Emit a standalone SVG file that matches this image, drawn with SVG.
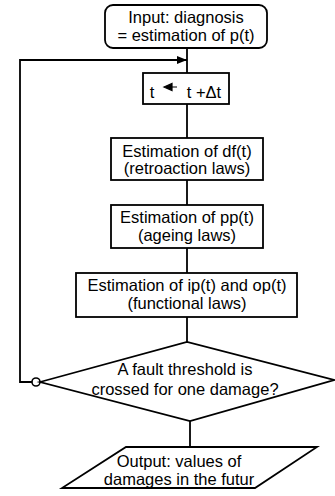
<svg xmlns="http://www.w3.org/2000/svg" width="335" height="496" viewBox="0 0 335 496">
<style>
.s{fill:#fff;stroke:#000;stroke-width:1.8}
.c{fill:none;stroke:#000;stroke-width:1.8}
text{font-family:"Liberation Sans",Arial,sans-serif;font-size:16.5px;fill:#000;text-anchor:middle}
</style>
<defs>
<marker id="ah" viewBox="0 0 10 8" refX="10" refY="4" markerWidth="10" markerHeight="8" markerUnits="userSpaceOnUse" orient="auto">
<path d="M0,0 L10,4 L0,8 Z" fill="#000"/>
</marker>
</defs>
<g id="connectors">
<path class="c" d="M187,48 V73"/>
<path class="c" d="M187,104 V138"/>
<path class="c" d="M187,180 V205"/>
<path class="c" d="M187,248 V273"/>
<path class="c" d="M187,317 V342"/>
<path class="c" d="M190,421 V447"/>
<path class="c" d="M32,382 H20 V60 H187" marker-end="url(#ah)"/>
<circle cx="36" cy="382" r="4" fill="#fff" stroke="#000" stroke-width="1.6"/>
</g>
<g id="input">
<rect class="s" x="105" y="5" width="162" height="43" rx="8"/>
<text x="186" y="23">Input: diagnosis</text>
<text x="186" y="41">= estimation of p(t)</text>
</g>
<g id="step">
<rect class="s" x="143" y="73" width="86" height="31"/>
<text x="152" y="98">t</text>
<path d="M164,87 L172,83.5 L172,90.5 Z M171,87 H177" fill="#000" stroke="#000" stroke-width="1.2"/>
<text x="204" y="98">t +Δt</text>
</g>
<g id="df">
<rect class="s" x="111" y="138" width="152" height="42"/>
<text x="187" y="157">Estimation of df(t)</text>
<text x="187" y="174">(retroaction laws)</text>
</g>
<g id="pp">
<rect class="s" x="111" y="205" width="152" height="43"/>
<text x="187" y="223">Estimation of pp(t)</text>
<text x="187" y="241">(ageing laws)</text>
</g>
<g id="ip">
<rect class="s" x="76" y="273" width="221" height="44"/>
<text x="187" y="291">Estimation of ip(t) and op(t)</text>
<text x="187" y="309">(functional laws)</text>
</g>
<g id="decision">
<polygon class="s" points="40,382 187,342 334,380 190,421"/>
<text x="185" y="375">A fault threshold is</text>
<text x="185" y="395">crossed for one damage?</text>
</g>
<g id="output">
<polygon class="s" points="126,447 317,447 255,488 62,488"/>
<text x="179" y="467">Output: values of</text>
<text x="179" y="485">damages in the futur</text>
</g>
</svg>
